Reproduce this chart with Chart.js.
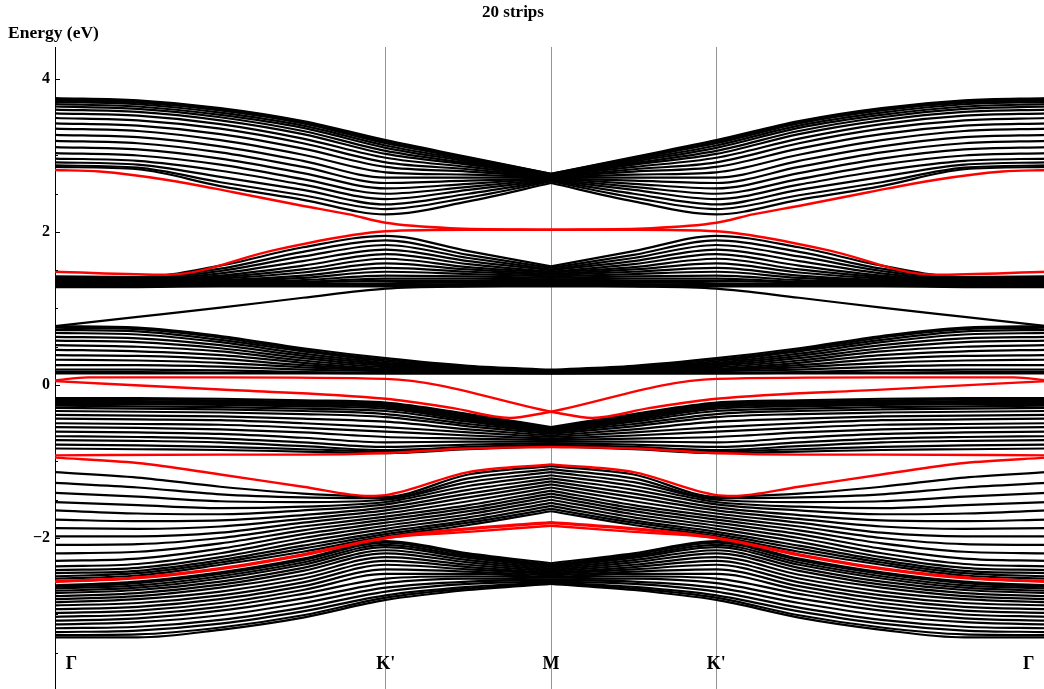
<!DOCTYPE html>
<html>
<head>
<meta charset="utf-8">
<script src="https://cdn.jsdelivr.net/npm/chart.js@4.4.1/dist/chart.umd.min.js"></script>
<style>
  html, body { margin: 0; padding: 0; background: #fff; overflow: hidden; width: 1044px; height: 689px; }
  #wrap { position: relative; width: 1050px; height: 689px; }
</style>
</head>
<body>
<div id="wrap"><canvas id="bands" width="1050" height="689"></canvas></div>
<script>
// ---- path through the Brillouin zone: Γ(0) → K'(2) → M(3) → K'(4) → Γ(6)
const kNodes = [0, 0.5, 1, 1.5, 2, 2.5, 3];
const kTotal = 6;
const kLines = [2, 3, 4];
const kLabelPos = [0.1, 2, 3, 4, 5.89];
const kLabelText = ['Γ', "K'", 'M', "K'", 'Γ'];

const titleText = '20 strips';
const yTitleText = 'Energy (eV)';
const yMin = -3.974;
const yMax = 4.418;
const yTickVals = [-3.5, -3, -2.5, -2, -1.5, -1, -0.5, 0, 0.5, 1, 1.5, 2, 2.5, 3, 3.5, 4];
const yLabelVals = [-2, 0, 2, 4];

// ---- bulk bands: each row holds the energies at one k node (Γ ... M), one column per band
const bandsTop = [
  [3.75,3.74,3.72,3.70,3.67,3.64,3.60,3.55,3.49,3.42,3.35,3.27,3.19,3.11,3.03,2.96,2.91,2.87,2.85],
  [3.72,3.71,3.69,3.67,3.64,3.61,3.57,3.52,3.46,3.39,3.32,3.24,3.16,3.08,3.00,2.93,2.88,2.84,2.82],
  [3.62,3.61,3.59,3.56,3.53,3.50,3.46,3.41,3.35,3.28,3.20,3.12,3.04,2.96,2.88,2.80,2.72,2.65,2.60],
  [3.45,3.44,3.42,3.39,3.36,3.32,3.28,3.22,3.16,3.09,3.01,2.93,2.85,2.77,2.69,2.62,2.55,2.48,2.42],
  [3.20,3.18,3.16,3.13,3.10,3.06,3.02,2.97,2.91,2.85,2.78,2.71,2.64,2.57,2.50,2.43,2.36,2.30,2.23],
  [2.98,2.97,2.96,2.94,2.92,2.90,2.88,2.85,2.82,2.79,2.75,2.71,2.67,2.63,2.59,2.55,2.50,2.45,2.40],
  [2.76,2.76,2.75,2.75,2.74,2.74,2.73,2.73,2.72,2.72,2.71,2.71,2.70,2.70,2.69,2.68,2.67,2.66,2.64]
];

const bandsMid = [
  [1.42,1.41,1.40,1.39,1.38,1.37,1.36,1.35,1.34,1.33,1.32,1.31,1.31,1.30,1.29,1.28],
  [1.41,1.40,1.39,1.38,1.37,1.36,1.35,1.34,1.33,1.32,1.32,1.31,1.30,1.29,1.29,1.28],
  [1.56,1.52,1.49,1.46,1.43,1.41,1.39,1.37,1.36,1.35,1.34,1.33,1.32,1.31,1.30,1.29],
  [1.80,1.74,1.68,1.62,1.56,1.51,1.47,1.43,1.40,1.37,1.35,1.34,1.32,1.31,1.30,1.29],
  [1.95,1.89,1.83,1.77,1.71,1.65,1.59,1.53,1.48,1.43,1.39,1.36,1.33,1.31,1.30,1.29],
  [1.75,1.70,1.66,1.62,1.58,1.54,1.51,1.48,1.45,1.42,1.39,1.36,1.34,1.32,1.30,1.29],
  [1.55,1.53,1.51,1.50,1.48,1.47,1.45,1.44,1.42,1.40,1.38,1.36,1.34,1.32,1.30,1.29]
];

// single dispersive band rising from Γ towards the flat band
const bandSingle = [0.77, 0.89, 1.01, 1.14, 1.26, 1.29, 1.30];

const bandsLow = [
  [0.77,0.75,0.72,0.68,0.63,0.58,0.52,0.46,0.39,0.33,0.26,0.20,0.17,0.15],
  [0.75,0.73,0.70,0.66,0.61,0.56,0.50,0.44,0.38,0.32,0.26,0.20,0.17,0.15],
  [0.64,0.62,0.59,0.56,0.52,0.48,0.44,0.39,0.34,0.29,0.24,0.19,0.16,0.15],
  [0.48,0.46,0.44,0.41,0.38,0.35,0.32,0.29,0.26,0.23,0.20,0.17,0.16,0.15],
  [0.35,0.33,0.31,0.29,0.27,0.25,0.23,0.21,0.20,0.19,0.18,0.16,0.15,0.15],
  [0.25,0.24,0.23,0.22,0.21,0.20,0.19,0.18,0.17,0.17,0.16,0.16,0.15,0.15],
  [0.20,0.19,0.19,0.18,0.18,0.17,0.17,0.17,0.16,0.16,0.16,0.15,0.15,0.15]
];

const bandsVal1 = [
  [-0.17,-0.19,-0.21,-0.23,-0.25,-0.27,-0.30,-0.34,-0.39,-0.44,-0.50,-0.55,-0.61,-0.67,-0.72,-0.78,-0.83],
  [-0.17,-0.19,-0.21,-0.23,-0.25,-0.28,-0.31,-0.35,-0.40,-0.45,-0.51,-0.56,-0.62,-0.68,-0.73,-0.79,-0.84],
  [-0.18,-0.20,-0.22,-0.24,-0.26,-0.29,-0.32,-0.36,-0.41,-0.46,-0.52,-0.58,-0.64,-0.70,-0.75,-0.81,-0.85],
  [-0.20,-0.22,-0.24,-0.26,-0.28,-0.31,-0.34,-0.38,-0.44,-0.50,-0.56,-0.62,-0.69,-0.75,-0.80,-0.84,-0.87],
  [-0.23,-0.25,-0.27,-0.29,-0.31,-0.34,-0.38,-0.42,-0.48,-0.55,-0.61,-0.68,-0.75,-0.81,-0.85,-0.87,-0.89],
  [-0.38,-0.40,-0.42,-0.44,-0.46,-0.48,-0.51,-0.54,-0.58,-0.62,-0.66,-0.70,-0.74,-0.78,-0.81,-0.83,-0.84],
  [-0.55,-0.56,-0.57,-0.58,-0.59,-0.61,-0.62,-0.64,-0.66,-0.68,-0.70,-0.72,-0.74,-0.76,-0.78,-0.79,-0.80]
];

const bandsVal2 = [
  [-1.14,-1.28,-1.41,-1.53,-1.64,-1.76,-1.87,-1.98,-2.09,-2.20,-2.30,-2.37,-2.42,-2.46,-2.50,-2.53],
  [-1.21,-1.34,-1.46,-1.57,-1.68,-1.78,-1.88,-1.98,-2.08,-2.18,-2.27,-2.34,-2.39,-2.43,-2.46,-2.49],
  [-1.33,-1.43,-1.52,-1.61,-1.69,-1.77,-1.85,-1.93,-2.00,-2.07,-2.14,-2.20,-2.25,-2.29,-2.32,-2.35],
  [-1.42,-1.47,-1.53,-1.59,-1.64,-1.70,-1.75,-1.80,-1.85,-1.90,-1.95,-2.00,-2.05,-2.10,-2.14,-2.18],
  [-1.46,-1.48,-1.50,-1.53,-1.56,-1.60,-1.64,-1.68,-1.72,-1.76,-1.80,-1.84,-1.88,-1.92,-1.95,-1.98],
  [-1.17,-1.22,-1.27,-1.32,-1.37,-1.42,-1.47,-1.52,-1.57,-1.61,-1.65,-1.69,-1.73,-1.77,-1.80,-1.83],
  [-1.06,-1.10,-1.14,-1.18,-1.22,-1.26,-1.30,-1.34,-1.38,-1.42,-1.46,-1.50,-1.54,-1.58,-1.62,-1.65]
];

const bandsVal3 = [
  [-2.62,-2.64,-2.66,-2.69,-2.72,-2.76,-2.80,-2.84,-2.88,-2.93,-2.98,-3.03,-3.08,-3.13,-3.18,-3.23,-3.27,-3.30],
  [-2.57,-2.59,-2.62,-2.65,-2.68,-2.72,-2.76,-2.80,-2.85,-2.90,-2.95,-3.00,-3.05,-3.10,-3.16,-3.21,-3.26,-3.30],
  [-2.45,-2.47,-2.50,-2.53,-2.57,-2.61,-2.65,-2.70,-2.75,-2.80,-2.85,-2.90,-2.95,-3.01,-3.07,-3.12,-3.17,-3.20],
  [-2.27,-2.29,-2.32,-2.35,-2.39,-2.43,-2.48,-2.53,-2.58,-2.63,-2.68,-2.73,-2.79,-2.85,-2.91,-2.96,-3.01,-3.04],
  [-2.04,-2.06,-2.09,-2.12,-2.16,-2.20,-2.25,-2.30,-2.35,-2.41,-2.47,-2.53,-2.59,-2.65,-2.70,-2.75,-2.78,-2.81],
  [-2.20,-2.22,-2.24,-2.26,-2.29,-2.32,-2.35,-2.38,-2.41,-2.44,-2.47,-2.50,-2.53,-2.57,-2.60,-2.64,-2.66,-2.68],
  [-2.33,-2.35,-2.36,-2.38,-2.40,-2.42,-2.44,-2.46,-2.47,-2.49,-2.51,-2.52,-2.54,-2.55,-2.57,-2.58,-2.59,-2.60]
];

// ---- edge states (red), half path Γ → M: k positions and energies
const edgeAK = [0, 0.27, 0.68, 1.08, 1.48, 1.78, 2, 2.39, 3];
const edgeAE = [2.81, 2.79, 2.68, 2.52, 2.35, 2.23, 2.12, 2.05, 2.03];
const edgeBK = [0, 0.68, 1.32, 1.8, 2, 2.5, 3];
const edgeBE = [1.48, 1.44, 1.76, 1.96, 2.01, 2.03, 2.03];
const edgeCK = [0, 0.2, 1, 2, 3];
const edgeCE = [0.06, 0.10, 0.10, 0.08, -0.35];
const edgeDK = [0, 1, 2, 2.4, 2.75, 3];
const edgeDE = [0.05, -0.06, -0.18, -0.30, -0.43, -0.35];
const edgeEK = [0, 1, 1.5, 2, 2.5, 3];
const edgeEE = [-0.92, -0.91, -0.91, -0.89, -0.83, -0.81];
const edgeFK = [0, 0.5, 1, 1.5, 1.9, 2, 2.5, 3];
const edgeFE = [-0.95, -1.02, -1.17, -1.33, -1.45, -1.44, -1.14, -1.04];
const edgeGK = [0, 0.5, 1, 1.5, 2, 2.5, 3];
const edgeGE = [-2.57, -2.52, -2.40, -2.22, -2.00, -1.88, -1.80];
const edgeHK = [0, 0.5, 1, 1.5, 2, 2.5, 3];
const edgeHE = [-2.57, -2.52, -2.40, -2.22, -2.00, -1.92, -1.84];

// ---- dataset builders
// a band along Γ→M plus its mirror image along M→Γ, kept as two curves so the kink at M survives
function halves(ks, es) {
  const left = ks.map((k, i) => ({ x: k, y: es[i] }));
  const right = ks.map((k, i) => ({ x: kTotal - k, y: es[i] })).reverse();
  return [left, right];
}
function columns(rows) {
  const out = [];
  for (let b = 0; b < rows[0].length; b++) out.push(rows.map(r => r[b]));
  return out;
}

const datasets = [];
function addBand(ks, es, color, width, order) {
  halves(ks, es).forEach(pts => datasets.push({
    data: pts, borderColor: color, borderWidth: width, order: order,
    pointRadius: 0, fill: false, cubicInterpolationMode: 'monotone'
  }));
}

[bandsTop, bandsMid, bandsLow, bandsVal1, bandsVal2, bandsVal3].forEach(rows =>
  columns(rows).forEach(es => addBand(kNodes, es, '#000', 2.2, 1)));
addBand(kNodes, bandSingle, '#000', 2.2, 1);

const RED = '#f00';
addBand(edgeAK, edgeAE, RED, 2.4, 0);
addBand(edgeBK, edgeBE, RED, 2.4, 0);
addBand(edgeCK, edgeCE, RED, 2.4, 0);
addBand(edgeDK, edgeDE, RED, 2.4, 0);
addBand(edgeEK, edgeEE, RED, 2.4, 0);
addBand(edgeFK, edgeFE, RED, 2.4, 0);
addBand(edgeGK, edgeGE, RED, 3.2, 0);
addBand(edgeHK, edgeHE, RED, 2.4, 0);

const SERIF = '"Liberation Serif", "Times New Roman", serif';

// ---- labels and inner tick marks
const decor = {
  id: 'decor',
  afterDraw(chart) {
    const { ctx, scales: { x, y }, chartArea } = chart;
    ctx.save();
    ctx.strokeStyle = '#000';
    ctx.lineWidth = 1;
    yTickVals.forEach(v => {
      const py = Math.round(y.getPixelForValue(v)) + 0.5;
      const len = yLabelVals.includes(v) ? 5 : 3;
      ctx.beginPath();
      ctx.moveTo(chartArea.left, py);
      ctx.lineTo(chartArea.left + len, py);
      ctx.stroke();
    });

    ctx.fillStyle = '#000';
    ctx.textBaseline = 'alphabetic';
    ctx.font = 'bold 17px ' + SERIF;
    ctx.textAlign = 'center';
    ctx.fillText(titleText, 513, 17);

    ctx.textAlign = 'left';
    ctx.font = 'bold 17.5px ' + SERIF;
    ctx.fillText(yTitleText, 8, 38);

    ctx.textAlign = 'center';
    ctx.font = 'bold 18px ' + SERIF;
    kLabelPos.forEach((k, i) => {
      ctx.fillText(kLabelText[i], x.getPixelForValue(k), 669);
    });
    ctx.restore();
  }
};

new Chart(document.getElementById('bands'), {
  type: 'line',
  data: { datasets },
  options: {
    responsive: false,
    animation: false,
    devicePixelRatio: 1,
    events: [],
    layout: { padding: { top: 47, right: 3, left: 0, bottom: 0 } },
    plugins: { legend: { display: false }, tooltip: { enabled: false }, title: { display: false } },
    scales: {
      x: {
        type: 'linear', min: 0, max: kTotal,
        afterBuildTicks: s => { s.ticks = kLines.map(v => ({ value: v })); },
        ticks: { display: false, autoSkip: false },
        grid: { color: 'rgba(0,0,0,0.42)', lineWidth: 1, drawTicks: false },
        border: { display: false },
        afterFit: s => { s.height = 0; s.paddingLeft = 0; s.paddingRight = 0; }
      },
      y: {
        type: 'linear', min: yMin, max: yMax,
        afterBuildTicks: s => { s.ticks = yTickVals.map(v => ({ value: v })); },
        ticks: {
          autoSkip: false,
          padding: 5,
          color: '#000',
          font: { family: SERIF, weight: 'bold', size: 16 },
          callback: v => yLabelVals.includes(v) ? (v < 0 ? '\u2212' + Math.abs(v) : String(v)) : ''
        },
        grid: { display: true, drawOnChartArea: false, drawTicks: false, color: 'rgba(0,0,0,0)' },
        border: { display: true, color: '#000', width: 1 },
        afterFit: s => { s.width = 55; s.paddingTop = 0; s.paddingBottom = 0; }
      }
    }
  },
  plugins: [decor]
});
</script>
</body>
</html>
